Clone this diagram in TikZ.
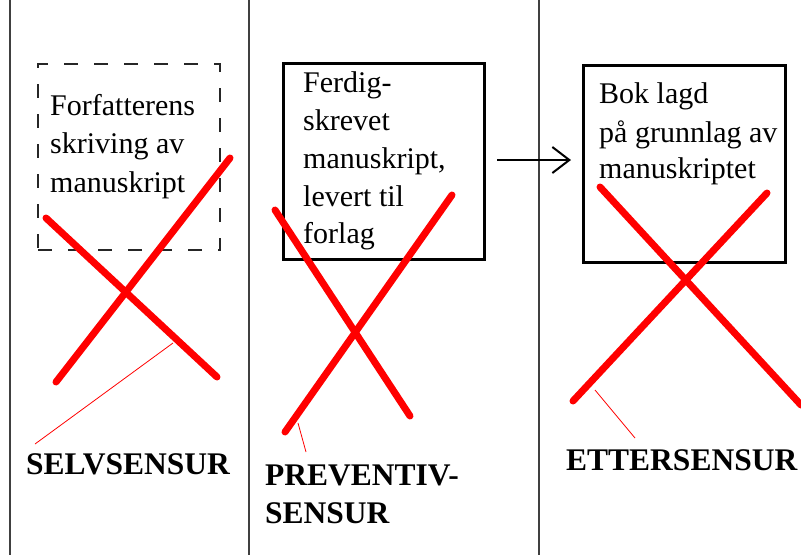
\documentclass[tikz,border=0pt]{standalone}
\usepackage{fontspec}
\setmainfont{Liberation Serif}
\usetikzlibrary{arrows.meta}
\begin{document}
\begin{tikzpicture}[x=1pt,y=-1pt,
  divider/.style={draw=black!75,line width=1.4pt},
  frame/.style={draw=black,line width=3pt,inner sep=0pt},
  dashframe/.style={draw=black!85,line width=2pt,dash pattern=on 14pt off 16pt,inner sep=0pt},
  txt/.style={anchor=base west,inner sep=0pt,font=\fontsize{30}{38}\selectfont},
  lbl/.style={anchor=base west,inner sep=0pt,font=\fontsize{31.5}{38}\selectfont\bfseries},
  cross/.style={draw=red,line width=7pt,line cap=round},
  leader/.style={draw=red,line width=0.8pt}]
\useasboundingbox (0,0) rectangle (801,555);
% dividers
\coordinate (d1t) at (10,0); \coordinate (d1b) at (10,555);
\coordinate (d2t) at (249,0); \coordinate (d2b) at (249,555);
\coordinate (d3t) at (539,0); \coordinate (d3b) at (539,555);
\draw[divider] (d1t) -- (d1b);
\draw[divider] (d2t) -- (d2b);
\draw[divider] (d3t) -- (d3b);
% boxes
\node[dashframe,minimum width=182pt,minimum height=186pt,anchor=north west] (b1) at (37,63) {};
\node[frame,minimum width=201pt,minimum height=196pt,anchor=north west] (b2) at (282,62) {};
\node[frame,minimum width=202pt,minimum height=197pt,anchor=north west] (b3) at (582,64) {};
% texts
\node[txt] (t11) at (50,115) {Forfatterens};
\node[txt] (t12) at (50,153) {skriving av};
\node[txt] (t13) at (50,192) {manuskript};
\node[txt] (t21) at (303,92) {Ferdig-};
\node[txt] (t22) at (303,130) {skrevet};
\node[txt] (t23) at (303,168) {manuskript,};
\node[txt] (t24) at (303,206) {levert til};
\node[txt] (t25) at (303,243) {forlag};
\node[txt] (t31) at (599,103) {Bok lagd};
\node[txt] (t32) at (599,142) {på grunnlag av};
\node[txt] (t33) at (599,178) {manuskriptet};
% arrow
\coordinate (as) at (497,160);
\coordinate (ae) at (571,160);
\draw[line width=2pt,-{Straight Barb[length=17pt,width=26pt,line width=2pt]}] (as) -- (ae);
% crosses
\coordinate (x1a) at (230,158); \coordinate (x1b) at (56,382);
\coordinate (x1c) at (46,218); \coordinate (x1d) at (217,377);
\draw[cross] (x1a) -- (x1b);
\draw[cross] (x1c) -- (x1d);
\coordinate (x2a) at (452,195); \coordinate (x2b) at (285,432);
\coordinate (x2c) at (275,210); \coordinate (x2d) at (410,416);
\draw[cross] (x2a) -- (x2b);
\draw[cross] (x2c) -- (x2d);
\coordinate (x3a) at (767,193); \coordinate (x3b) at (573,401);
\coordinate (x3c) at (600,187); \coordinate (x3d) at (801,405);
\draw[cross] (x3a) -- (x3b);
\draw[cross] (x3c) -- (x3d);
% labels
\node[lbl] (l1) at (26,474) {SELVSENSUR};
\node[lbl] (l2a) at (265,485) {PREVENTIV-};
\node[lbl] (l2b) at (265,523) {SENSUR};
\node[lbl] (l3) at (566,470) {ETTERSENSUR};
% leaders
\coordinate (p1) at (173,343); \coordinate (q1) at (35,444);
\coordinate (p2) at (298,423); \coordinate (q2) at (306,452);
\coordinate (p3) at (595,390); \coordinate (q3) at (635,438);
\draw[leader] (p1) -- (q1);
\draw[leader] (p2) -- (q2);
\draw[leader] (p3) -- (q3);
\end{tikzpicture}
\end{document}
